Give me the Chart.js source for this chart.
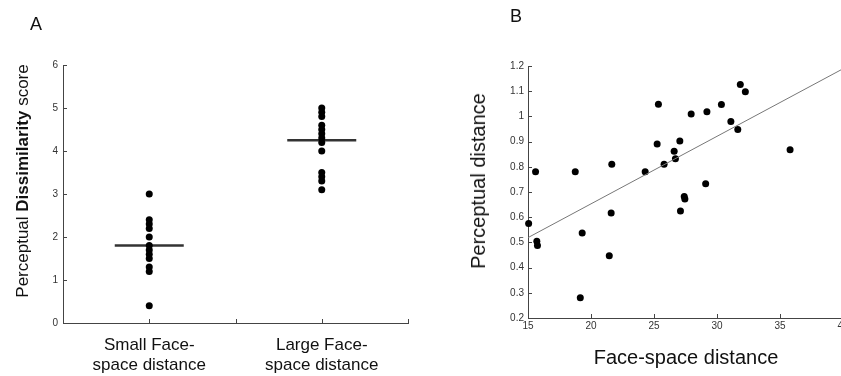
<!DOCTYPE html>
<html>
<head>
<meta charset="utf-8">
<script src="https://cdn.jsdelivr.net/npm/chart.js@4.4.1/dist/chart.umd.min.js"></script>
<style>
  html, body { margin: 0; padding: 0; background: #fff; }
  body { width: 841px; height: 376px; overflow: hidden; position: relative; font-family: "Liberation Sans", Arial, sans-serif; color: #111; }
  canvas { position: absolute; top: 0; }
  #chartA { left: 0; }
  #chartB { left: 420px; }
  .panel { position: absolute; font-size: 18px; line-height: 18px; }
  .title { position: absolute; white-space: nowrap; line-height: 1; transform: translate(-50%, -50%); }
  .rot { transform: translate(-50%, -50%) rotate(-90deg); }
</style>
</head>
<body>
<canvas id="chartA" width="420" height="376"></canvas>
<canvas id="chartB" width="440" height="376"></canvas>
<div class="panel" style="left:30px; top:15px;">A</div>
<div class="panel" style="left:510px; top:7px;">B</div>
<div class="title rot" style="left:22px; top:181px; font-size:17px;">Perceptual <b>Dissimilarity</b> score</div>
<div class="title rot" style="left:478px; top:181px; font-size:20px;">Perceptual distance</div>
<div class="title" style="left:686px; top:357px; font-size:20px;">Face-space distance</div>
<script>
// panel A: dissimilarity scores per group
const groupLabels = [["Small Face-", "space distance"], ["Large Face-", "space distance"]];
const groupPositions = [1, 3];
const smallGroup = [3.0, 2.4, 2.3, 2.2, 2.0, 1.8, 1.7, 1.6, 1.5, 1.3, 1.2, 0.4];
const largeGroup = [5.0, 4.9, 4.8, 4.6, 4.5, 4.4, 4.3, 4.2, 4.0, 3.5, 3.4, 3.3, 3.1];
const groupMeans = [1.8, 4.25];

// panel B: face-space vs perceptual distance
const faceSpace = [15.05, 15.6, 15.7, 15.75, 18.75, 19.15, 19.3, 21.45, 21.6, 21.65,
  24.3, 25.25, 25.35, 25.8, 26.6, 26.7, 27.05, 27.1, 27.4, 27.45,
  27.95, 29.1, 29.2, 30.35, 31.1, 31.65, 31.85, 32.25, 35.8];
const perceptual = [0.575, 0.78, 0.505, 0.488, 0.78, 0.28, 0.537, 0.447, 0.617, 0.81,
  0.78, 0.89, 1.048, 0.81, 0.862, 0.832, 0.902, 0.625, 0.682, 0.672,
  1.01, 0.733, 1.018, 1.047, 0.98, 0.948, 1.127, 1.098, 0.868];
const fitX = [15, 40];
const fitY = [0.519, 1.189];

Chart.defaults.font.family = "'Liberation Sans', Arial, sans-serif";
Chart.defaults.font.size = 10;
Chart.defaults.color = "#333";

const axisColor = "#444";

const innerTicks = {
  id: "innerTicks",
  beforeDatasetsDraw(chart) {
    const { ctx, chartArea } = chart;
    const len = 4;
    ctx.save();
    ctx.strokeStyle = axisColor;
    ctx.lineWidth = 1;
    ctx.beginPath();
    const x = chart.scales.x;
    x.ticks.forEach((t) => {
      const px = Math.round(x.getPixelForValue(t.value)) + 0.5;
      ctx.moveTo(px, chartArea.bottom);
      ctx.lineTo(px, chartArea.bottom - len);
    });
    const y = chart.scales.y;
    y.ticks.forEach((t) => {
      const py = Math.round(y.getPixelForValue(t.value)) + 0.5;
      ctx.moveTo(chartArea.left, py);
      ctx.lineTo(chartArea.left + len, py);
    });
    ctx.stroke();
    ctx.restore();
  },
};

function meanLine(pos, value) {
  return {
    data: [{ x: pos - 0.4, y: value }, { x: pos + 0.4, y: value }],
    showLine: true,
    borderColor: "#333",
    borderWidth: 2.5,
    pointRadius: 0,
    clip: false,
  };
}

function dots(points, radius) {
  return {
    data: points,
    backgroundColor: "#000",
    borderColor: "#000",
    borderWidth: 0,
    pointRadius: radius,
    clip: false,
  };
}

new Chart(document.getElementById("chartA"), {
  type: "scatter",
  data: {
    datasets: [
      dots(smallGroup.map((v) => ({ x: groupPositions[0], y: v })), 3.5),
      dots(largeGroup.map((v) => ({ x: groupPositions[1], y: v })), 3.5),
      meanLine(groupPositions[0], groupMeans[0]),
      meanLine(groupPositions[1], groupMeans[1]),
    ],
  },
  options: {
    responsive: false,
    devicePixelRatio: 1,
    animation: false,
    layout: { padding: { top: 65, right: 12, left: 0, bottom: 0 } },
    plugins: { legend: { display: false }, tooltip: { enabled: false } },
    scales: {
      x: {
        type: "linear",
        min: 0,
        max: 4,
        grid: { display: false, drawTicks: false },
        border: { color: axisColor, width: 1 },
        afterFit: (s) => { s.height = 53; },
        ticks: {
          stepSize: 1,
          autoSkip: false,
          maxRotation: 0,
          padding: 12,
          color: "#111",
          font: { size: 17 },
          callback: (value) => {
            const i = groupPositions.indexOf(value);
            return i >= 0 ? groupLabels[i] : "";
          },
        },
      },
      y: {
        min: 0,
        max: 6,
        grid: { display: false, drawTicks: false },
        border: { color: axisColor, width: 1 },
        afterFit: (s) => { s.width = 63; },
        ticks: { stepSize: 1, padding: 5 },
      },
    },
  },
  plugins: [innerTicks],
});

new Chart(document.getElementById("chartB"), {
  type: "scatter",
  data: {
    datasets: [
      {
        data: fitX.map((x, i) => ({ x, y: fitY[i] })),
        showLine: true,
        borderColor: "#777",
        borderWidth: 1,
        pointRadius: 0,
        clip: false,
      },
      dots(faceSpace.map((x, i) => ({ x, y: perceptual[i] })), 3.5),
    ],
  },
  options: {
    responsive: false,
    devicePixelRatio: 1,
    animation: false,
    layout: { padding: { top: 66, right: 17, left: 0, bottom: 0 } },
    plugins: { legend: { display: false }, tooltip: { enabled: false } },
    scales: {
      x: {
        type: "linear",
        min: 15,
        max: 40,
        grid: { display: false, drawTicks: false },
        border: { color: axisColor, width: 1 },
        afterFit: (s) => { s.height = 58; },
        ticks: { stepSize: 5, padding: 2, maxRotation: 0, autoSkip: false },
      },
      y: {
        min: 0.2,
        max: 1.2,
        grid: { display: false, drawTicks: false },
        border: { color: axisColor, width: 1 },
        afterFit: (s) => { s.width = 108; },
        ticks: {
          stepSize: 0.1,
          padding: 4,
          autoSkip: false,
          callback: (value) => String(Math.round(value * 10) / 10),
        },
      },
    },
  },
  plugins: [innerTicks],
});
</script>
</body>
</html>
